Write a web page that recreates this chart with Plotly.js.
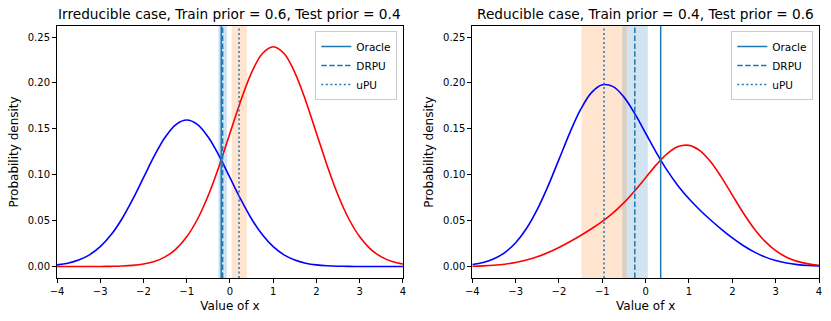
<!DOCTYPE html>
<html>
<head>
<meta charset="utf-8">
<script src="https://cdn.plot.ly/plotly-3.0.1.min.js"></script>
<style>
html, body { margin: 0; padding: 0; background: #fff; }
#plot { width: 831px; height: 321px; }
</style>
</head>
<body>
<div id="plot"></div>
<script>
// x grid shared by all four curves
var xs = [-4, -3.75, -3.5, -3.25, -3, -2.75, -2.5, -2.25, -2, -1.75, -1.5, -1.25, -1,
          -0.75, -0.5, -0.25, 0, 0.25, 0.5, 0.75, 1, 1.25, 1.5, 1.75, 2,
          2.25, 2.5, 2.75, 3, 3.25, 3.5, 3.75, 4];

// left panel (irreducible)
var leftBlue = [0.00177, 0.00364, 0.00701, 0.01270, 0.02160, 0.03451, 0.05181, 0.07306, 0.09679,
                0.12046, 0.14083, 0.15467, 0.15958, 0.15467, 0.14083, 0.12046, 0.09679, 0.07306,
                0.05181, 0.03451, 0.02160, 0.01270, 0.00701, 0.00364, 0.00177, 0.00081, 0.00035,
                0.00014, 0.00005, 0.00002, 0.00001, 0.00000, 0.00000];
var leftRed = [0.00000, 0.00000, 0.00001, 0.00003, 0.00008, 0.00021, 0.00052, 0.00122, 0.00266,
               0.00545, 0.01052, 0.01904, 0.03240, 0.05177, 0.07771, 0.10959, 0.14518, 0.18068,
               0.21124, 0.23200, 0.23936, 0.23200, 0.21124, 0.18068, 0.14518, 0.10959, 0.07771,
               0.05177, 0.03240, 0.01904, 0.01052, 0.00545, 0.00266];

// right panel (reducible)
var rightBlue = [0.00213, 0.00436, 0.00842, 0.01524, 0.02593, 0.04146, 0.06227, 0.08791, 0.11668,
                 0.14564, 0.17109, 0.18941, 0.19797, 0.19595, 0.18453, 0.16646, 0.14518, 0.12380,
                 0.10441, 0.08781, 0.07379, 0.06163, 0.05066, 0.04050, 0.03116, 0.02289, 0.01596,
                 0.01052, 0.00654, 0.00383, 0.00211, 0.00109, 0.00053];
var rightRed = [0.00035, 0.00073, 0.00141, 0.00256, 0.00436, 0.00702, 0.01064, 0.01526, 0.02078,
                0.02700, 0.03378, 0.04110, 0.04920, 0.05855, 0.06961, 0.08254, 0.09679, 0.11098,
                0.12302, 0.13064, 0.13198, 0.12627, 0.11406, 0.09709, 0.07779, 0.05861, 0.04152,
                0.02764, 0.01729, 0.01016, 0.00561, 0.00291, 0.00142];

// thresholds: Oracle, DRPU, uPU  and the spread bands
var methods = ["Oracle", "DRPU", "uPU"];
var leftThr = [-0.203, -0.17, 0.21];
var rightThr = [0.347, -0.25, -0.96];
var leftBands = {DRPU: [-0.27, -0.07], uPU: [0.04, 0.39]};
var rightBands = {DRPU: [-0.54, 0.05], uPU: [-1.48, -0.44]};

var titles = ["Irreducible case, Train prior = 0.6, Test prior = 0.4",
              "Reducible case, Train prior = 0.4, Test prior = 0.6"];

var yRange = [-0.0125, 0.262];
var C0 = "#1f77b4";
var dashes = ["solid", "5.5px,2.4px", "2px,2.5px"];

function curve(y, color, xa, ya) {
    return {x: xs, y: y, xaxis: xa, yaxis: ya, mode: "lines", showlegend: false,
            line: {color: color, width: 1.6, shape: "spline"}, hoverinfo: "skip"};
}

function vlines(thr, xa, ya, leg) {
    return thr.map(function (v, i) {
        return {x: [v, v], y: yRange, xaxis: xa, yaxis: ya, mode: "lines",
                name: methods[i], legend: leg,
                line: {color: C0, width: 1.5, dash: dashes[i]}};
    });
}

var data = [
    curve(leftBlue, "blue", "x", "y"),
    curve(leftRed, "red", "x", "y")
].concat(vlines(leftThr, "x", "y", "legend")).concat([
    curve(rightBlue, "blue", "x2", "y2"),
    curve(rightRed, "red", "x2", "y2")
]).concat(vlines(rightThr, "x2", "y2", "legend2"));

function band(r, color, xa) {
    return {type: "rect", xref: xa, yref: (xa == "x" ? "y" : "y2") + " domain",
            x0: r[0], x1: r[1], y0: 0, y1: 1, fillcolor: color, opacity: 0.2,
            line: {width: 0}, layer: "below"};
}

var shapes = [
    band(leftBands.DRPU, C0, "x"), band(leftBands.uPU, "#ff7f0e", "x"),
    band(rightBands.DRPU, C0, "x2"), band(rightBands.uPU, "#ff7f0e", "x2")
];

function xaxis(dom, anchor) {
    return {domain: dom, anchor: anchor, range: [-4, 4], dtick: 1, ticks: "outside", ticklen: 4,
            tickcolor: "#000", showline: true, mirror: true, linecolor: "#000", linewidth: 1,
            showgrid: false, zeroline: false, title: {text: "Value of x", standoff: 5}};
}
function yaxis(anchor) {
    return {domain: [0, 1], anchor: anchor, range: yRange, tick0: 0, dtick: 0.05, tickformat: ".2f",
            ticks: "outside", ticklen: 4, tickcolor: "#000", showline: true, mirror: true,
            linecolor: "#000", linewidth: 1, showgrid: false, zeroline: false,
            title: {text: "Probability density", standoff: 6}};
}

function legend(x) {
    return {x: x, xanchor: "right", y: 0.98, yanchor: "top", bgcolor: "rgba(255,255,255,0.8)",
            bordercolor: "#cccccc", borderwidth: 1, font: {size: 10.5}, itemwidth: 30,
            tracegroupgap: 0};
}

var layout = {
    width: 831, height: 321,
    margin: {l: 57, r: 12, t: 26, b: 43},
    paper_bgcolor: "#fff", plot_bgcolor: "#fff",
    font: {family: "DejaVu Sans", size: 10, color: "#000"},
    xaxis: xaxis([0, 0.454], "y"),
    yaxis: yaxis("x"),
    xaxis2: xaxis([0.545, 1], "y2"),
    yaxis2: yaxis("x2"),
    legend: legend(0.4466),
    legend2: legend(0.9925),
    shapes: shapes,
    annotations: [
        {text: titles[0], xref: "paper", yref: "paper", x: 0.227, y: 1, xanchor: "center",
         yanchor: "bottom", yshift: 2, showarrow: false, font: {size: 13.7}},
        {text: titles[1], xref: "paper", yref: "paper", x: 0.7725, y: 1, xanchor: "center",
         yanchor: "bottom", yshift: 2, showarrow: false, font: {size: 13.7}}
    ]
};

Plotly.newPlot("plot", data, layout, {displayModeBar: false, staticPlot: true});
</script>
</body>
</html>
